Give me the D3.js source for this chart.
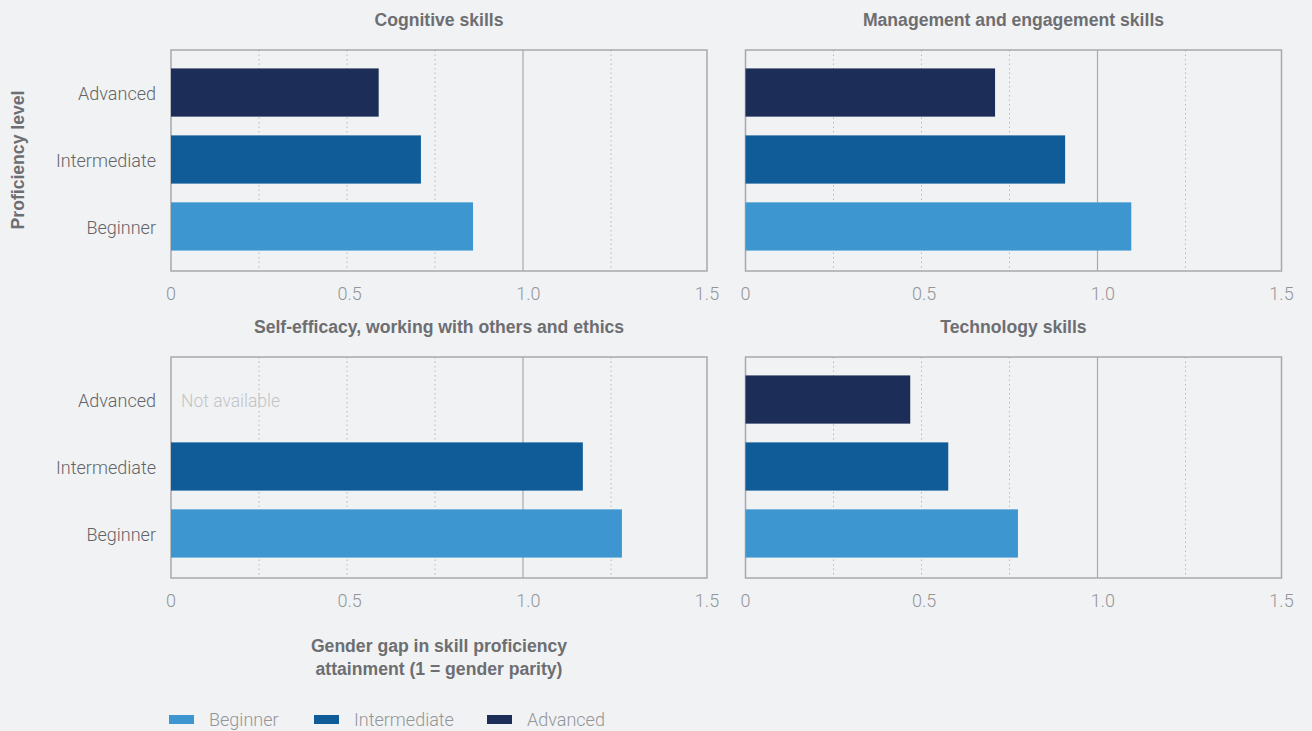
<!DOCTYPE html>
<html>
<head>
<meta charset="utf-8">
<script src="https://cdn.jsdelivr.net/npm/d3@7"></script>
<style>
  body { margin: 0; background: #f1f2f4; }
  svg { display: block; font-family: "Liberation Sans", "Noto Sans", sans-serif; }
  .light { font-family: Roboto, "Liberation Sans", sans-serif; font-weight: 300; }
</style>
</head>
<body>
<div id="chart"></div>
<script>
// Data
const levels = ["Advanced", "Intermediate", "Beginner"];
const legendLevels = ["Beginner", "Intermediate", "Advanced"];
const panelTitles = [
    "Cognitive skills",
    "Management and engagement skills",
    "Self-efficacy, working with others and ethics",
    "Technology skills"
];
// values in order Advanced, Intermediate, Beginner (null = not available)
const cognitive = [0.59, 0.71, 0.858];
const management = [0.709, 0.908, 1.096];
const selfEfficacy = [null, 1.17, 1.281];
const technology = [0.468, 0.576, 0.774];
const tickLabels = [0, 0.5, 1.0, 1.5];
const gridValues = [0.25, 0.5, 0.75, 1.25];

const colors = {Beginner: "#3d96d0", Intermediate: "#0f5c99", Advanced: "#1c2d57"};

const W = 1312, H = 731;
const svg = d3.select("#chart").append("svg")
    .attr("width", W)
    .attr("height", H);

// Panel geometry
const panelW = 536, panelH = 221;
const panels = [
    {title: panelTitles[0], values: cognitive, x: 171, y: 50, labels: true},
    {title: panelTitles[1], values: management, x: 745.5, y: 50, labels: false},
    {title: panelTitles[2], values: selfEfficacy, x: 171, y: 357, labels: true},
    {title: panelTitles[3], values: technology, x: 745.5, y: 357, labels: false}
];

// bars follow the gridlines (88px per 0.25), labels are spread over the frame
const x = d3.scaleLinear().domain([0, 1]).range([0, 352]);
const xLabel = d3.scaleLinear().domain([0, 1.5]).range([0, panelW]);
const y = d3.scaleBand().domain(levels).range([0, panelH])
    .paddingInner(0.28).paddingOuter(0.29);

panels.forEach(p => {
    const g = svg.append("g").attr("transform", "translate(" + p.x + "," + p.y + ")");

    // dotted gridlines
    g.selectAll(".grid")
        .data(gridValues)
        .enter()
        .append("line")
        .attr("x1", d => x(d)).attr("x2", d => x(d))
        .attr("y1", 0).attr("y2", panelH)
        .attr("stroke", "#b9bbbe")
        .attr("stroke-width", 1)
        .attr("stroke-dasharray", "1.5,3");

    // parity line
    g.append("line")
        .attr("x1", x(1)).attr("x2", x(1))
        .attr("y1", 0).attr("y2", panelH)
        .attr("stroke", "#a7a9ac")
        .attr("stroke-width", 1.2);

    // frame
    g.append("rect")
        .attr("x", 0).attr("y", 0)
        .attr("width", panelW).attr("height", panelH)
        .attr("fill", "none")
        .attr("stroke", "#a7a9ac")
        .attr("stroke-width", 1.5);

    // bars
    const rows = levels.map((l, i) => ({level: l, value: p.values[i]}));
    g.selectAll(".bar")
        .data(rows.filter(d => d.value !== null))
        .enter()
        .append("rect")
        .attr("x", 0)
        .attr("y", d => y(d.level) - 1)
        .attr("width", d => x(d.value))
        .attr("height", y.bandwidth())
        .attr("fill", d => colors[d.level]);

    rows.filter(d => d.value === null).forEach(d => {
        g.append("text")
            .attr("class", "light")
            .attr("x", 10)
            .attr("y", y(d.level) + y.bandwidth() / 2)
            .attr("dy", "0.35em")
            .attr("fill", "#c2c4c6")
            .attr("font-size", 17.5)
            .text("Not available");
    });

    // category labels
    if (p.labels) {
        g.selectAll(".cat")
            .data(levels)
            .enter()
            .append("text")
            .attr("class", "light")
            .attr("x", -15)
            .attr("y", d => y(d) + y.bandwidth() / 2)
            .attr("dy", "0.35em")
            .attr("text-anchor", "end")
            .attr("fill", "#636466")
            .attr("font-size", 18)
            .text(d => d);
    }

    // tick labels
    g.selectAll(".tick")
        .data(tickLabels)
        .enter()
        .append("text")
        .attr("class", "light")
        .attr("x", d => xLabel(d))
        .attr("y", panelH + 29)
        .attr("text-anchor", "middle")
        .attr("fill", "#939598")
        .attr("font-size", 18)
        .text(d => d === 0 ? "0" : d.toFixed(1));

    // title
    g.append("text")
        .attr("x", panelW / 2)
        .attr("y", -24)
        .attr("text-anchor", "middle")
        .attr("fill", "#6d6e71")
        .attr("font-size", 17.6)
        .attr("font-weight", "bold")
        .text(p.title);
});

// y axis title
svg.append("text")
    .attr("transform", "translate(24,160) rotate(-90)")
    .attr("text-anchor", "middle")
    .attr("fill", "#6d6e71")
    .attr("font-size", 17.6)
    .attr("font-weight", "bold")
    .text("Proficiency level");

// x axis title
svg.append("text")
    .attr("x", 439)
    .attr("y", 652)
    .attr("text-anchor", "middle")
    .attr("fill", "#6d6e71")
    .attr("font-size", 17.6)
    .attr("font-weight", "bold")
    .selectAll("tspan")
    .data(["Gender gap in skill proficiency", "attainment (1 = gender parity)"])
    .enter()
    .append("tspan")
    .attr("x", 439)
    .attr("dy", (d, i) => i === 0 ? 0 : 23)
    .text(d => d);

// legend
const legend = svg.append("g").attr("transform", "translate(169,715)");
const legendX = [0, 145, 318];
legendLevels.forEach((l, i) => {
    legend.append("rect")
        .attr("x", legendX[i]).attr("y", 0)
        .attr("width", 25).attr("height", 9)
        .attr("fill", colors[l]);
    legend.append("text")
        .attr("class", "light")
        .attr("x", legendX[i] + 40)
        .attr("y", 4.5)
        .attr("dy", "0.35em")
        .attr("fill", "#939598")
        .attr("font-size", 18)
        .text(l);
});
</script>
</body>
</html>
